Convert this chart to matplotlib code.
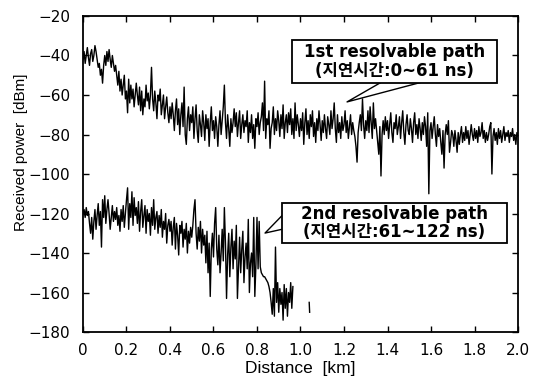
import numpy as np
import matplotlib
matplotlib.use('Agg')
import matplotlib.pyplot as plt
from matplotlib.patches import Rectangle

# 1st resolvable path (0 ~ 2.0 km, step 0.005 km)
path1_db = [
    -42, -38, -44, -40, -36, -41, -45, -39, -37, -43,
    -40, -35, -38, -42, -46, -44, -50, -47, -54, -45,
    -40, -45, -38, -43, -37, -42, -46, -40, -44, -48,
    -45, -50, -55, -48, -58, -52, -60, -55, -50, -62,
    -58, -69, -52, -64, -55, -62, -57, -66, -60, -54,
    -60, -65, -56, -68, -58, -70, -62, -66, -55, -63,
    -59, -67, -60, -46, -62, -68, -58, -64, -72, -60,
    -63, -57, -70, -65, -60, -72, -66, -61, -69, -74,
    -66, -72, -64, -70, -78, -68, -62, -75, -67, -80,
    -70, -64, -76, -56, -80, -85, -72, -66, -78, -70,
    -74, -66, -82, -72, -65, -78, -84, -70, -75, -81,
    -68, -74, -83, -70, -77, -72, -86, -74, -66, -78,
    -73, -82, -71, -76, -86, -75, -68, -80, -73, -66,
    -55, -74, -82, -70, -77, -86, -72, -79, -74, -67,
    -76, -69, -81, -74, -68, -82, -75, -70, -79, -73,
    -76, -68, -84, -74, -79, -70, -82, -75, -87, -72,
    -76, -69, -80, -74, -71, -64, -78, -53, -82, -72,
    -75, -68, -87, -77, -74, -66, -80, -72, -78, -68,
    -73, -81, -70, -77, -65, -82, -74, -70, -79, -69,
    -75, -67, -80, -72, -82, -64, -78, -70, -75, -81,
    -72, -78, -69, -85, -74, -67, -80, -73, -82, -70,
    -76, -68, -81, -74, -84, -72, -78, -68, -75, -83,
    -73, -79, -70, -77, -82, -71, -75, -80, -68, -77,
    -72, -64, -77, -84, -70, -79, -74, -82, -71, -78,
    -75, -68, -79, -73, -82, -76, -70, -80, -74, -78,
    -81, -86, -94, -79, -74, -70, -78, -62, -75, -82,
    -73, -78, -68, -79, -66, -74, -82, -64, -77, -72,
    -78, -84, -90, -76, -101, -80, -73, -80, -71, -78,
    -73, -82, -75, -69, -79, -84, -74, -77, -70, -80,
    -76, -71, -82, -74, -68, -79, -85, -75, -70, -78,
    -80, -72, -77, -84, -74, -69, -80, -75, -82, -72,
    -77, -83, -74, -80, -71, -76, -86, -69, -110, -78,
    -74, -82, -76, -71, -80, -86, -75, -81, -77, -84,
    -90, -78, -97, -80, -75, -80, -73, -89, -84, -78,
    -80, -86, -78, -83, -89, -79, -85, -80, -76, -84,
    -79, -83, -76, -82, -78, -85, -80, -75, -80, -83,
    -77, -82, -78, -84, -76, -81, -79, -74, -82, -78,
    -84, -79, -83, -80, -76, -74, -100, -81, -77, -83,
    -79, -85, -77, -82, -78, -84, -80, -76, -83, -79,
    -81, -78, -84, -79, -81, -77, -83, -80, -85, -79,
    -81,
]
path1_km = np.arange(len(path1_db)) * 0.005

# 2nd resolvable path (0 ~ 0.965 km, step 0.005 km)
path2_db = [
    -120, -118, -122, -117, -121, -119, -125, -130, -122, -133,
    -124, -118, -128, -121, -115, -126, -119, -137, -113, -122,
    -111, -125, -118, -113, -120, -128, -122, -116, -124, -119,
    -123, -117, -126, -121, -129, -118, -124, -116, -127, -120,
    -113, -107, -128, -115, -122, -109, -126, -112, -121, -117,
    -125, -114, -129, -119, -113, -127, -121, -116, -130, -118,
    -124, -120, -131, -117, -126, -113, -128, -122, -119, -130,
    -121, -127, -118, -132, -124, -128, -120, -135, -126, -123,
    -129, -124, -136, -127, -122, -138, -125, -131, -141, -126,
    -130, -124, -137, -128, -133, -125, -140, -129, -135, -127,
    -132, -126, -118, -113, -130, -138, -127, -134, -124, -140,
    -128, -136, -131, -145, -129, -150, -135, -162, -138, -130,
    -142, -125, -117, -138, -146, -131, -150, -140, -128, -144,
    -117, -135, -163, -141, -130, -152, -137, -128, -148, -134,
    -143, -126, -163, -147, -132, -150, -138, -129, -155, -142,
    -135, -148, -123, -160, -145, -140, -152, -122, -162, -146,
    -122, -148, -124, -147, -150, -151, -152, -152, -153, -154,
    -155, -157, -160, -165, -171, -158, -172, -137, -165, -155,
    -170, -158, -166, -160, -174, -156, -168, -158, -172, -160,
    -165, -155, -168, -157,
]
path2_km = np.arange(len(path2_db)) * 0.005

# isolated fragment of the 2nd path near 1.04 km
frag_km = [1.040, 1.042]
frag_db = [-165, -170]

label1 = '1st resolvable path\n(지연시간:0~61 ns)'
label2 = '2nd resolvable path\n(지연시간:61~122 ns)'

tick_fonts = ['DejaVu Sans']
fonts = ['Liberation Sans', 'Noto Sans CJK KR']
box_fonts = ['DejaVu Sans', 'Noto Sans CJK KR']

fig = plt.figure(figsize=(5.41, 3.80), dpi=100)
ax = fig.add_axes([0.1534, 0.1263, 0.8041, 0.8316])

ax.plot(path1_km, path1_db, color='black', lw=1.0)
ax.plot(path2_km, path2_db, color='black', lw=1.0)
ax.plot(frag_km, frag_db, color='black', lw=1.0)

ax.set_xlim(0, 2.0)
ax.set_ylim(-180, -20)
ax.set_xticks(np.arange(0, 2.01, 0.2))
ax.set_xticklabels(['0', '0.2', '0.4', '0.6', '0.8', '1.0', '1.2', '1.4', '1.6', '1.8', '2.0'])
ax.set_yticks(np.arange(-180, -19, 20))
ax.tick_params(direction='in', top=True, right=True, length=4, width=1,
               labelsize=11)
ax.tick_params(axis='x', pad=8)
ax.tick_params(axis='y', pad=9)
for lab in ax.get_xticklabels() + ax.get_yticklabels():
    lab.set_family(tick_fonts)
for sp in ax.spines.values():
    sp.set_linewidth(1.3)

ax.set_xlabel('Distance  [km]', family=fonts, fontsize=12.5)
ax.xaxis.set_label_coords(0.5, -0.092)
ax.set_ylabel('Received power  [dBm]', family=fonts, fontsize=11)
ax.yaxis.set_label_coords(-0.126, 0.57)

# callout wedges (start inside the boxes, boxes are drawn over them)
ax.annotate('', xy=(1.214, -63.5), xytext=(1.66, -43.3), zorder=4,
            arrowprops=dict(arrowstyle='wedge,tail_width=2.0,shrink_factor=0.5',
                            mutation_scale=10, fc='white', ec='black', lw=1.0,
                            shrinkA=0, shrinkB=0))
ax.annotate('', xy=(0.837, -129.9), xytext=(0.977, -121.3), zorder=4,
            arrowprops=dict(arrowstyle='wedge,tail_width=1.5,shrink_factor=0.5',
                            mutation_scale=10, fc='white', ec='black', lw=1.0,
                            shrinkA=0, shrinkB=0))

# label boxes
ax.add_patch(Rectangle((0.961, -53.9), 0.942, 21.75, fc='white', ec='black',
                       lw=1.3, zorder=5))
ax.add_patch(Rectangle((0.915, -134.9), 1.034, 20.2, fc='white', ec='black',
                       lw=1.3, zorder=5))
ax.text(1.432, -43.0, label1, ha='center', va='center', family=box_fonts,
        fontsize=12, fontweight='bold', linespacing=1.05, zorder=6)
ax.text(1.432, -124.8, label2, ha='center', va='center', family=box_fonts,
        fontsize=12, fontweight='bold', linespacing=1.05, zorder=6)

fig.savefig('out.png', dpi=100)
